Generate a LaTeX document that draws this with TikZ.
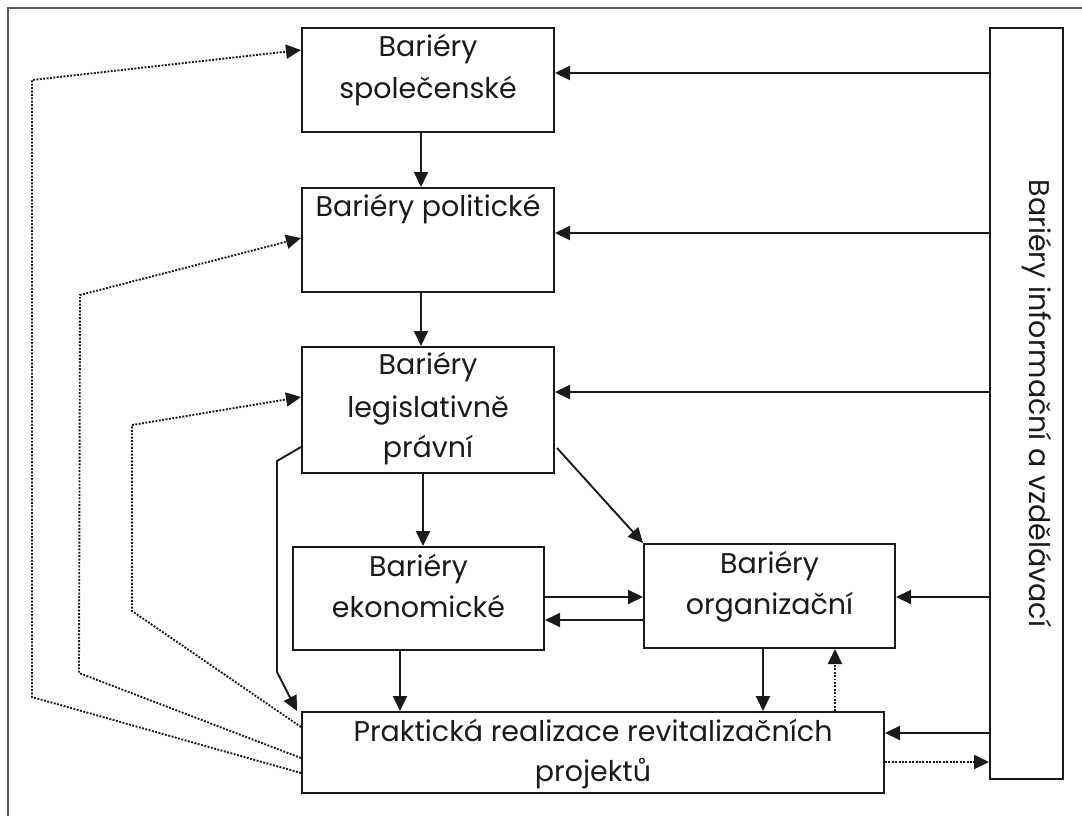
\documentclass[tikz,border=0pt]{standalone}
\usepackage{fontspec}
\setmainfont{Poppins}
\usetikzlibrary{arrows.meta}
\definecolor{ink}{HTML}{1A1A1A}
\definecolor{framegray}{HTML}{5A5A5A}
\begin{document}
\begin{tikzpicture}[x=1pt,y=-1pt,
  box/.style={draw=ink,line width=2pt,inner sep=0pt},
  lbl/.style={font=\fontsize{28.5}{41}\selectfont,text=ink,inner sep=0pt,anchor=base},
  arr/.style={draw=ink,line width=1.9pt,-{Triangle[length=15pt,width=14pt]}},
  dots/.style={arr,line width=1.9pt,dash pattern=on 1.9pt off 1.5pt},
  frame/.style={draw=framegray,line width=1.2pt}]
\useasboundingbox (0,0) rectangle (1082,816);
\fill[white] (0,0) rectangle (1082,816);
\draw[frame] (8,816) -- (8,8) -- (1082,8);

% boxes
\node[box,minimum width=252pt,minimum height=104pt] (soc) at (428,80) {};
\node[box,minimum width=252pt,minimum height=104pt] (pol) at (428,240) {};
\node[box,minimum width=252pt,minimum height=126pt] (leg) at (428,410) {};
\node[box,minimum width=251pt,minimum height=103pt] (eko) at (418.5,598.5) {};
\node[box,minimum width=251pt,minimum height=104pt] (org) at (769.5,596) {};
\node[box,minimum width=582pt,minimum height=81pt] (real) at (593,752.5) {};
\node[box,minimum width=73pt,minimum height=751pt] (inf) at (1026.5,403.5) {};

% labels
\node[lbl] (soc1) at ([yshift=-29.5pt]soc.north) {Bariéry};
\node[lbl] (soc2) at ([yshift=-72pt]soc.north) {společenské};
\node[lbl] (pol1) at ([yshift=-29pt]pol.north) {Bariéry politické};
\node[lbl] (leg1) at ([yshift=-28.5pt]leg.north) {Bariéry};
\node[lbl] (leg2) at ([yshift=-71pt]leg.north) {legislativně};
\node[lbl] (leg3) at ([yshift=-111pt]leg.north) {právní};
\node[lbl] (eko1) at ([yshift=-30pt]eko.north) {Bariéry};
\node[lbl] (eko2) at ([yshift=-71pt]eko.north) {ekonomické};
\node[lbl] (org1) at ([yshift=-30pt]org.north) {Bariéry};
\node[lbl] (org2) at ([yshift=-71pt]org.north) {organizační};
\node[lbl] (real1) at ([yshift=-30pt]real.north) {Praktická realizace revitalizačních};
\node[lbl] (real2) at ([yshift=-70pt]real.north) {projektů};
\node[lbl,rotate=-90] (inf1) at ([xshift=3pt]inf.center) {Bariéry informační a vzdělávací};

% guide levels for connectors
\coordinate (h1) at (0,73);
\coordinate (h2) at (0,233);
\coordinate (h3) at (0,392);
\coordinate (h4) at (0,597);
\coordinate (h5) at (0,733);
\coordinate (h6) at (0,762);
\coordinate (h7) at (0,620);
\coordinate (v1) at (421,0);
\coordinate (v2) at (423,0);
\coordinate (v3) at (400,0);
\coordinate (v4) at (763,0);
\coordinate (v5) at (835,0);

% information barriers feed every level
\draw[arr] (inf.west |- h1) -- (soc.east |- h1);
\draw[arr] (inf.west |- h2) -- (pol.east |- h2);
\draw[arr] (inf.west |- h3) -- (leg.east |- h3);
\draw[arr] (inf.west |- h4) -- (org.east |- h4);
\draw[arr] (inf.west |- h5) -- (real.east |- h5);
\draw[dots] (real.east |- h6) -- (inf.west |- h6);

% main chain
\draw[arr] (soc.south -| v1) -- (pol.north -| v1);
\draw[arr] (pol.south -| v1) -- (leg.north -| v1);
\draw[arr] (leg.south -| v2) -- (eko.north -| v2);
\coordinate (d0) at (557,448);
\draw[arr] (d0) -- (org.north west);
\draw[arr] (eko.east |- h4) -- (org.west |- h4);
\draw[arr] (org.west |- h7) -- (eko.east |- h7);
\draw[arr] (eko.south -| v3) -- (real.north -| v3);
\draw[arr] (org.south -| v4) -- (real.north -| v4);
\draw[dots] (real.north -| v5) -- (org.south -| v5);

% legislative barriers straight to the projects
\coordinate (k1) at (277,461);
\coordinate (k2) at (277,672);
\draw[arr] ([yshift=-37pt]leg.west) -- (k1) -- (k2) -- ([xshift=-4pt]real.north west);

% feedback from the projects
\coordinate (o1) at (32,697);
\coordinate (o2) at (32,80);
\coordinate (m1) at (79,673);
\coordinate (m2) at (80,295);
\coordinate (n1) at (132,611);
\coordinate (n2) at (132,425);
\draw[dots] ([yshift=-20.5pt]real.west) -- (o1) -- (o2) -- ([yshift=30pt]soc.west);
\draw[dots] ([yshift=-5.5pt]real.west) -- (m1) -- (m2) -- ([yshift=2pt]pol.west);
\draw[dots] ([yshift=25.5pt]real.west) -- (n1) -- (n2) -- ([yshift=13pt]leg.west);
\end{tikzpicture}
\end{document}
